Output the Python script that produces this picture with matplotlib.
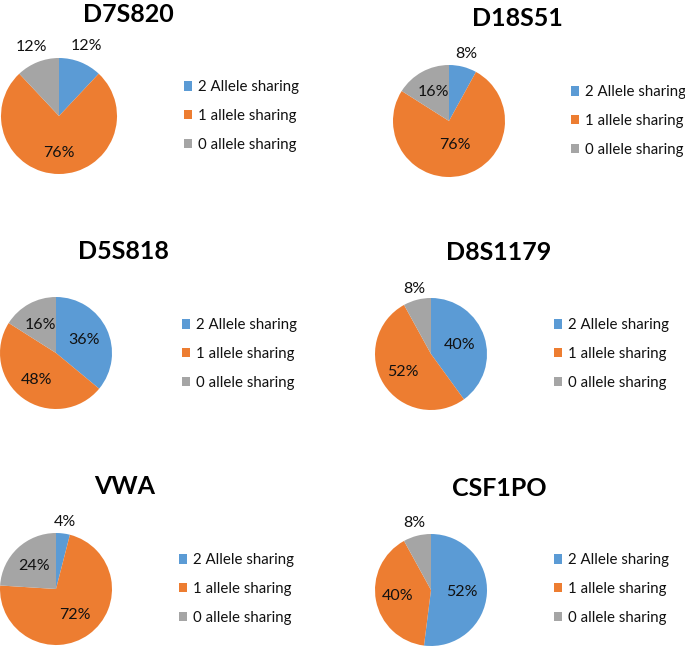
import matplotlib
matplotlib.use("Agg")
import matplotlib.pyplot as plt
from matplotlib.patches import Patch
import numpy as np

plt.rcParams['font.family'] = ['Lato', 'DejaVu Sans']

markers = ["D7S820", "D18S51", "D5S818", "D8S1179", "VWA", "CSF1PO"]
categories = ["2 Allele sharing", "1 allele sharing", "0 allele sharing"]
two_allele = [12, 8, 36, 40, 4, 52]
one_allele = [76, 76, 48, 52, 72, 40]
zero_allele = [12, 16, 16, 8, 24, 8]

colors = ["#5B9BD5", "#ED7D31", "#A5A5A5"]

W, H = 685, 646
fig = plt.figure(figsize=(W / 100, H / 100), dpi=100)

# layout in pixels
centers = [(59, 116), (449, 121), (56, 353), (431, 354), (56, 589), (431, 590)]
radii = [58, 56, 56, 56, 56, 56]
title_pos = [(128, 15), (517, 19), (123, 251), (499, 252), (125, 486), (499, 488)]
legend_pos = [(184, 116), (571, 121), (182, 354), (554, 354), (179, 589), (554, 589)]
label_dist = [[1.29, 0.64, 1.28], [1.23, 0.45, 0.59], [0.55, 0.59, 0.58],
              [0.54, 0.6, 1.2], [1.2, 0.58, 0.57], [0.56, 0.6, 1.23]]


def fx(x):
    return x / W


def fy(y):
    return 1 - y / H


for i, name in enumerate(markers):
    vals = [two_allele[i], one_allele[i], zero_allele[i]]
    cx, cy = centers[i]
    r = radii[i]
    ax = fig.add_axes([fx(cx - r), fy(cy + r), 2 * r / W, 2 * r / H])
    wedges, _ = ax.pie(vals, colors=colors, startangle=90, counterclock=False,
                       radius=1, wedgeprops=dict(linewidth=0))
    ax.set_xlim(-1, 1)
    ax.set_ylim(-1, 1)
    ax.set_aspect('equal')
    ax.axis('off')
    for w, v, d in zip(wedges, vals, label_dist[i]):
        ang = np.deg2rad((w.theta1 + w.theta2) / 2)
        ax.text(d * np.cos(ang), d * np.sin(ang), f"{v}%", ha='center', va='center',
                fontsize=11.5, color='#111111', clip_on=False)
    tx, ty = title_pos[i]
    fig.text(fx(tx), fy(ty), name, ha='center', va='center', fontsize=18,
             fontweight='bold', color='black')
    lx, ly = legend_pos[i]
    handles = [Patch(facecolor=c, edgecolor='none') for c in colors]
    fig.legend(handles, categories, loc='center left', bbox_to_anchor=(fx(lx), fy(ly)),
               bbox_transform=fig.transFigure, frameon=False, fontsize=10.8,
               handlelength=0.55, handleheight=0.55, handletextpad=0.4,
               labelspacing=0.98, borderpad=0, borderaxespad=0, labelcolor='#111111')

fig.savefig("out.png", dpi=100, facecolor='white')
